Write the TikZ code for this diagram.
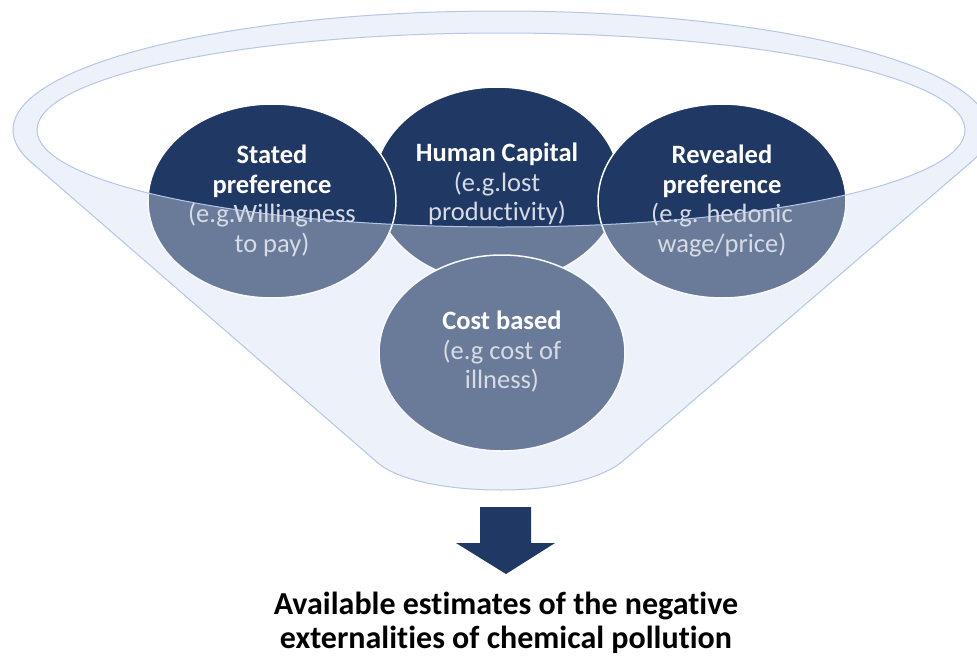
\documentclass[tikz,border=0pt]{standalone}
\usepackage{fontspec}
\setmainfont{Carlito}[Ligatures=NoCommon]
\definecolor{navy}{HTML}{203864}
\definecolor{funnelfill}{HTML}{EDF1F9}
\definecolor{funnelline}{HTML}{B4C7E7}
\definecolor{subtext}{HTML}{D6DBE5}
\newcommand\headtxt[1]{\textcolor{white}{\bfseries #1}}
\newcommand\subtxt[1]{\textcolor{subtext}{#1}}
\begin{document}
\begin{tikzpicture}[x=1pt,y=-1pt,
  ringstyle/.style={fill=funnelfill, draw=funnelline, line width=1pt},
  disc/.style={fill=navy, draw=white, line width=1.5pt},
  lbl/.style={align=center, font=\fontsize{26.5}{29.5}\selectfont, inner sep=0pt},
  result/.style={align=center, font=\fontsize{32}{34}\selectfont\bfseries, text=black, inner sep=0pt},
  blockarrow/.style={fill=navy, draw=none}
]
\useasboundingbox (0,0) rectangle (977,656);
\clip (0,0) rectangle (977,656);
\fill[white] (0,0) rectangle (977,656);

% funnel rim and body
\coordinate (tl) at (31,162);
\coordinate (tr) at (970,163);
\coordinate (blc) at (378,463);
\coordinate (brc) at (624,460);
\path[ringstyle] (501,130) ellipse [x radius=488pt, y radius=119pt];
\fill[funnelfill] (tl) -- (blc) .. controls (395,478) and (440,490) .. (501,490)
  .. controls (562,490) and (607,476) .. (brc) -- (tr) -- cycle;
\fill[white] (501,130) ellipse [x radius=464pt, y radius=97pt];

% discs
\path[disc] (497,185) ellipse [x radius=123pt, y radius=98pt];
\path[disc] (272,201) ellipse [x radius=124pt, y radius=97pt];
\path[disc] (722,201) ellipse [x radius=124pt, y radius=97pt];
\path[disc] (502,353) ellipse [x radius=123pt, y radius=98pt];

% translucent front of the funnel
\begin{scope}
  \clip (tl) -- (blc) .. controls (395,478) and (440,490) .. (501,490)
    .. controls (562,490) and (607,476) .. (brc) -- (tr) -- cycle;
  \fill[funnelfill, fill opacity=0.365, even odd rule]
    (0,0) rectangle (977,656) (501,130) ellipse [x radius=464pt, y radius=97pt];
\end{scope}

\draw[funnelline, line width=1pt] (tl) -- (blc) .. controls (395,478) and (440,490) .. (501,490)
  .. controls (562,490) and (607,476) .. (brc) -- (tr);
\draw[funnelline, line width=1pt] (501,130) ellipse [x radius=464pt, y radius=97pt];

% labels
\node[lbl] (stated) at (272,201) {\headtxt{Stated}\\ \headtxt{preference}\\ \subtxt{(e.g.Willingness}\\ \subtxt{to pay)}};
\node[lbl] (human) at (497,184) {\headtxt{Human Capital}\\ \subtxt{(e.g.lost}\\ \subtxt{productivity)}};
\node[lbl] (revealed) at (722,201) {\headtxt{Revealed}\\ \headtxt{preference}\\ \subtxt{(e.g. hedonic}\\ \subtxt{wage/price)}};
\node[lbl] (cost) at (502,352) {\headtxt{Cost based}\\ \subtxt{(e.g cost of}\\ \subtxt{illness)}};

% arrow
\fill[blockarrow] (480,507) -- (531,507) -- (531,543) -- (555,543) -- (506,574)
  -- (456,543) -- (480,543) -- cycle;

\node[result] (estimates) at (506,623) {Available estimates of the negative\\ externalities of chemical pollution};
\end{tikzpicture}
\end{document}
